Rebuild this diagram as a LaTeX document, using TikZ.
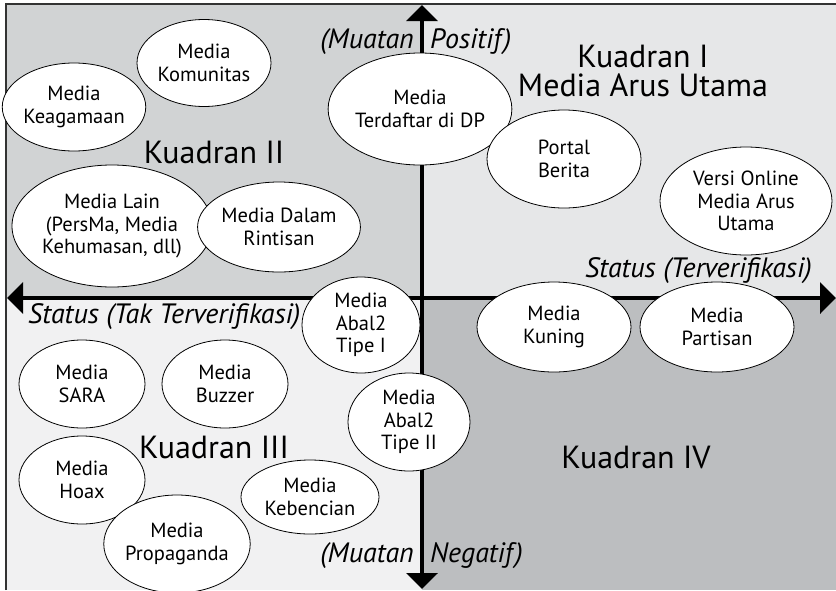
\documentclass[tikz,border=0pt]{standalone}
\usepackage{fontspec}
\setmainfont{PT Sans}
\usetikzlibrary{shapes.geometric,arrows.meta}
\definecolor{qone}{HTML}{E6E7E8}
\definecolor{qtwo}{HTML}{D1D3D4}
\definecolor{qthree}{HTML}{F1F1F2}
\definecolor{qfour}{HTML}{BCBEC0}
\definecolor{framec}{HTML}{333333}
\tikzset{
  ell/.style={ellipse, draw=black, line width=0.8pt, fill=white, inner sep=0pt, align=center,
    font=\fontsize{20.5}{22.5}\selectfont},
  quadlabel/.style={inner sep=0pt, align=center, font=\fontsize{32}{30}\selectfont},
  axislabel/.style={inner sep=0pt, font=\fontsize{28}{30}\selectfont\itshape},
  axis/.style={line width=4.5pt, {Triangle[length=16pt,width=31pt]}-{Triangle[length=16pt,width=31pt]}},
}
\begin{document}
\begin{tikzpicture}[x=1pt,y=-1pt]
\useasboundingbox (0,0) rectangle (836,590);
% quadrant backgrounds
\fill[qtwo] (6,4) rectangle (422,298);
\fill[qone] (422,4) rectangle (836,298);
\fill[qthree] (6,298) rectangle (422,590);
\fill[qfour] (422,298) rectangle (836,590);
% frame
\draw[framec, line width=1.3pt] (6,590) -- (6,4) -- (836,4);
% axes
\coordinate (W) at (7,298);
\coordinate (E) at (836,298);
\coordinate (N) at (422,5);
\coordinate (S) at (422,589);
\draw[axis] (W) -- (E);
\draw[axis] (S) -- (N);
% axis labels
\node[axislabel, anchor=base east] (mp1) at (414,48) {(Muatan};
\node[axislabel, anchor=base west] (mp2) at (430,48) {Positif)};
\node[axislabel, anchor=base east] (mn1) at (414,562) {(Muatan};
\node[axislabel, anchor=base west] (mn2) at (430,562) {Negatif)};
\node[axislabel, anchor=base east] (sv) at (812,277) {Status (Terverifikasi)};
\node[axislabel, anchor=base west] (stv) at (28,323) {Status (Tak Terverifikasi)};
% quadrant labels
\node[quadlabel, anchor=base, text depth=0pt] (k1) at (643,67) {Kuadran I};
\node[quadlabel, anchor=base, text height=23pt] (k1b) at (643,96) {Media Arus Utama};
\node[quadlabel, anchor=base] (k2) at (214,163) {Kuadran II};
\node[quadlabel, anchor=base] (k3) at (214,458) {Kuadran III};
\node[quadlabel, anchor=base] (k4) at (636,468) {Kuadran IV};
% ellipses quadrant II
\node[ell, minimum width=134pt, minimum height=87pt] (kom) at (204,63) {Media\\Komunitas};
\node[ell, minimum width=134pt, minimum height=88pt] (kea) at (74,107) {Media\\Keagamaan};
\node[ell, minimum width=160pt, minimum height=112pt] (dp) at (420,109) {Media\\Terdaftar di DP};
\node[ell, minimum width=200pt, minimum height=122pt] (lain) at (112,226) {Media Lain\\(PersMa, Media\\Kehumasan, dll)};
\node[ell, minimum width=154pt, minimum height=90pt] (rin) at (279,227) {Media Dalam\\Rintisan};
% quadrant I
\node[ell, minimum width=154pt, minimum height=98pt] (portal) at (564,159) {Portal\\Berita};
\node[ell, minimum width=172pt, minimum height=108pt] (versi) at (746,201) {Versi Online\\Media Arus\\Utama};
% quadrant IV
\node[ell, minimum width=154pt, minimum height=90pt] (kun) at (554,327) {Media\\Kuning};
\node[ell, minimum width=154pt, minimum height=90pt] (par) at (717,327) {Media\\Partisan};
% quadrant III
\node[ell, minimum width=118pt, minimum height=96pt] (ab1) at (361,325) {Media\\Abal2\\Tipe I};
\node[ell, minimum width=126pt, minimum height=88pt] (sara) at (82,384) {Media\\SARA};
\node[ell, minimum width=126pt, minimum height=88pt] (buz) at (225,384) {Media\\Buzzer};
\node[ell, minimum width=122pt, minimum height=98pt] (ab2) at (409,422) {Media\\Abal2\\Tipe II};
\node[ell, minimum width=126pt, minimum height=88pt] (hoax) at (82,480) {Media\\Hoax};
\node[ell, minimum width=138pt, minimum height=74pt] (keb) at (310,497) {Media\\Kebencian};
\node[ell, minimum width=140pt, minimum height=98pt] (prop) at (177,544) {Media\\Propaganda};
\end{tikzpicture}
\end{document}
